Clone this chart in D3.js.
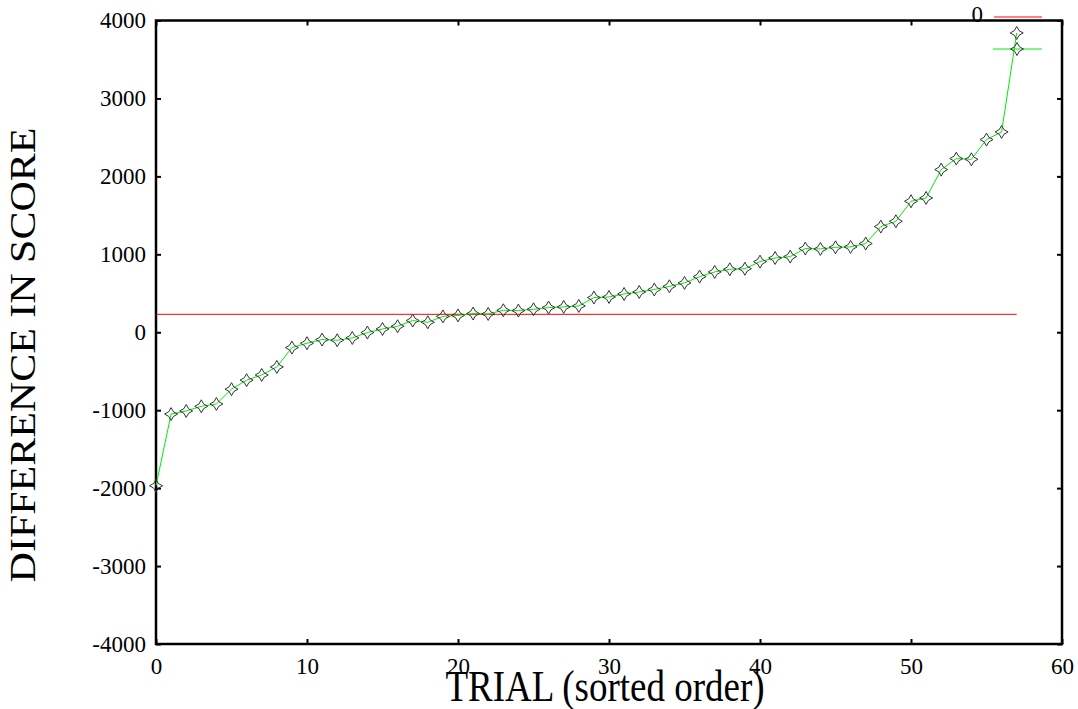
<!DOCTYPE html>
<html>
<head>
<meta charset="utf-8">
<script src="https://cdn.jsdelivr.net/npm/d3@7"></script>
<style>
	body { margin: 0; background: #fff; }
	svg text { font-family: "Liberation Serif", "Times New Roman", serif; }
</style>
</head>
<body>
<svg id="chart" width="1078" height="709"></svg>
<script>
// difference in score per trial, sorted order (trial = index)
let diffs = [-1970, -1050, -1010, -950, -920, -730, -615, -548, -445, -197,
	-141, -94, -103, -73, -4, 42, 77, 150, 128, 203,
	216, 240, 235, 282, 278, 295, 317, 325, 338, 445,
	453, 491, 517, 548, 590, 633, 714, 774, 808, 815,
	906, 953, 971, 1074, 1069, 1090, 1095, 1138, 1356, 1424,
	1681, 1723, 2087, 2228, 2219, 2472, 2570, 3840];
let refValue = 230;
let refSpan = [0, 57];
let xTicks = [0, 10, 20, 30, 40, 50, 60];
let yTicks = [-4000, -3000, -2000, -1000, 0, 1000, 2000, 3000, 4000];
let legendLabels = ['0', ''];

let serif = '"Liberation Serif", "Times New Roman", serif';
let svg = d3.select('#chart');

let x = d3.scaleLinear().domain([0, 60]).range([156, 1062]);
let y = d3.scaleLinear().domain([-4000, 4000]).range([644, 20.5]);

// star marker
function star(s) {
	let c = s * 0.22;
	return 'M0,' + (-s) + 'Q' + c + ',' + (-c) + ' ' + s + ',0'
		+ 'Q' + c + ',' + c + ' 0,' + s
		+ 'Q' + (-c) + ',' + c + ' ' + (-s) + ',0'
		+ 'Q' + (-c) + ',' + (-c) + ' 0,' + (-s) + 'Z';
}

// axes with inward ticks, mirrored
let tl = 5;
let fmt = d => String(d);
svg.append('g')
	.attr('transform', 'translate(0,' + y(-4000) + ')')
	.call(d3.axisBottom(x).tickValues(xTicks).tickSizeInner(-tl).tickSizeOuter(0).tickFormat(fmt))
	.call(g => g.selectAll('text').attr('y', 14).attr('dy', '0.71em'));
svg.append('g')
	.attr('transform', 'translate(0,' + y(4000) + ')')
	.call(d3.axisTop(x).tickValues(xTicks).tickSizeInner(-tl).tickSizeOuter(0).tickFormat(''));
svg.append('g')
	.attr('transform', 'translate(' + x(0) + ',0)')
	.call(d3.axisLeft(y).tickValues(yTicks).tickSizeInner(-tl).tickSizeOuter(0).tickFormat(fmt))
	.call(g => g.selectAll('text').attr('x', -10));
svg.append('g')
	.attr('transform', 'translate(' + x(60) + ',0)')
	.call(d3.axisRight(y).tickValues(yTicks).tickSizeInner(-tl).tickSizeOuter(0).tickFormat(''));

svg.selectAll('.domain').remove();
svg.selectAll('g').attr('font-family', null).attr('font-size', null);
svg.selectAll('.tick line').attr('stroke', '#000').attr('stroke-width', 2);
svg.selectAll('.tick text')
	.style('font-family', serif)
	.style('font-size', '23px')
	.attr('fill', '#000');

svg.append('rect')
	.attr('x', x(0)).attr('y', y(4000))
	.attr('width', x(60) - x(0)).attr('height', y(-4000) - y(4000))
	.attr('fill', 'none').attr('stroke', '#000').attr('stroke-width', 2.5);

// reference line
svg.append('line')
	.attr('x1', x(refSpan[0])).attr('x2', x(refSpan[1]))
	.attr('y1', y(refValue)).attr('y2', y(refValue))
	.attr('stroke', '#ff0000').attr('stroke-width', 1);

// data line + markers
let line = d3.line().x((d, i) => x(i)).y(d => y(d));
svg.append('path')
	.datum(diffs)
	.attr('d', line)
	.attr('fill', 'none').attr('stroke', '#00ee00').attr('stroke-width', 1);

svg.append('g').selectAll('path')
	.data(diffs)
	.enter()
	.append('path')
	.attr('transform', (d, i) => 'translate(' + x(i) + ',' + y(d) + ')')
	.attr('d', star(6.5))
	.attr('fill', 'none').attr('stroke', '#333').attr('stroke-width', 1);

// legend
svg.append('text')
	.attr('x', 983).attr('y', 22)
	.attr('text-anchor', 'end')
	.style('font-family', serif)
	.style('font-size', '23px')
	.text(legendLabels[0]);
svg.append('line')
	.attr('x1', 994).attr('x2', 1042).attr('y1', 17).attr('y2', 17)
	.attr('stroke', '#ff0000').attr('stroke-width', 1);
svg.append('line')
	.attr('x1', 993).attr('x2', 1042).attr('y1', 49).attr('y2', 49)
	.attr('stroke', '#00ee00').attr('stroke-width', 1);
svg.append('path')
	.attr('transform', 'translate(1017,49)')
	.attr('d', star(6.5))
	.attr('fill', 'none').attr('stroke', '#333').attr('stroke-width', 1);

// axis titles (stretched vertically like the original)
svg.append('text')
	.attr('transform', 'translate(605,701) scale(1,1.2)')
	.attr('text-anchor', 'middle')
	.style('font-family', serif)
	.style('font-size', '37px')
	.text('TRIAL (sorted order)');
svg.append('text')
	.attr('transform', 'translate(35,355) scale(1,1.2) rotate(-90)')
	.attr('text-anchor', 'middle')
	.style('font-family', serif)
	.style('font-size', '35px')
	.text('DIFFERENCE IN SCORE');
</script>
</body>
</html>
